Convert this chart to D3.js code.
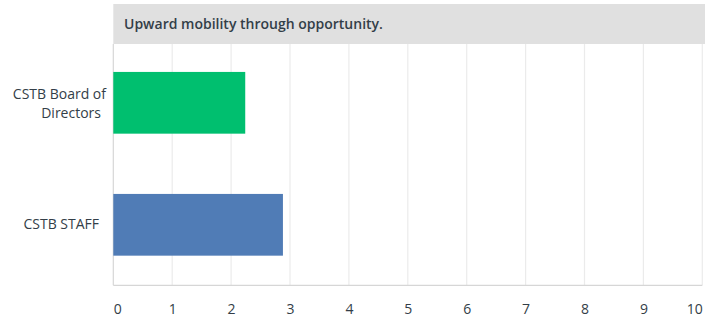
<!DOCTYPE html>
<html>
<head>
<meta charset="utf-8">
<script src="https://cdn.jsdelivr.net/npm/d3@7"></script>
<style>
  html, body { margin: 0; padding: 0; background: #fff; }
  svg { display: block; }
  text { font-family: "Open Sans", Roboto, sans-serif; fill: #333e48; }
</style>
</head>
<body>
<svg id="chart" width="707" height="320"></svg>
<script>
// Survey question and answer groups
const title = "Upward mobility through opportunity.";
const categories = ["CSTB Board of Directors", "CSTB STAFF"];
const labelLines = [["CSTB Board of", "Directors"], ["CSTB STAFF"]];
const values = [2.24, 2.88];
const barColors = ["#00bf6f", "#507cb6"];
const tickValues = [0, 1, 2, 3, 4, 5, 6, 7, 8, 9, 10];

const svg = d3.select("#chart");
const left = 113.3, right = 702.3, headerTop = 4, headerBottom = 44, bottom = 285.3;
const fontSize = 14;

const x = d3.scaleLinear().domain([0, 10]).range([left, right]);
const y = d3.scaleBand().domain(categories).range([41.8, 285.8]).paddingInner(0.494).paddingOuter(0.247);

// vertical grid lines
svg.append("g").selectAll("line").data(tickValues).join("line")
  .attr("x1", d => x(d)).attr("x2", d => x(d))
  .attr("y1", headerBottom).attr("y2", bottom)
  .attr("stroke", d => d === 0 ? "#d6d6d6" : "#ebebeb").attr("stroke-width", 1.2);

// baseline
svg.append("line").attr("x1", left).attr("x2", right)
  .attr("y1", bottom).attr("y2", bottom)
  .attr("stroke", "#d6d6d6").attr("stroke-width", 1.2);

// question header
svg.append("rect").attr("x", left).attr("y", headerTop)
  .attr("width", 705 - left).attr("height", headerBottom - headerTop)
  .attr("fill", "#e0e0e0");
svg.append("text").attr("x", 124).attr("y", 28.5)
  .attr("font-size", fontSize).attr("font-weight", 600).text(title);

// bars
svg.append("g").selectAll("rect").data(categories).join("rect")
  .attr("x", x(0)).attr("y", d => y(d))
  .attr("width", (d, i) => x(values[i]) - x(0))
  .attr("height", y.bandwidth())
  .attr("fill", (d, i) => barColors[i]);

// category labels, right aligned against the plot
const rightEdges = [[106, 101], [99]];
categories.forEach((c, i) => {
  const lines = labelLines[i];
  const cy = y(c) + y.bandwidth() / 2;
  const lh = 19;
  const start = cy + 4.5 - (lines.length - 1) * lh / 2 + (lines.length > 1 ? 1.4 : 0);
  lines.forEach((ln, j) => {
    svg.append("text").attr("x", rightEdges[i][j]).attr("y", start + j * lh)
      .attr("text-anchor", "end").attr("font-size", fontSize).text(ln);
  });
});

// x axis tick labels
const axis = d3.axisBottom(x).tickValues(tickValues).tickSize(0).tickPadding(0).tickFormat(d3.format("d"));
const gx = svg.append("g").attr("transform", `translate(0,${bottom})`).call(axis);
gx.select(".domain").remove();
gx.selectAll("text")
  .attr("y", 28.7).attr("dy", null)
  .attr("font-size", fontSize)
  .attr("font-family", "'Open Sans', Roboto, sans-serif")
  .attr("fill", "#333e48")
  .attr("text-anchor", d => d === 0 ? "start" : d === 10 ? "end" : "middle");
</script>
</body>
</html>
